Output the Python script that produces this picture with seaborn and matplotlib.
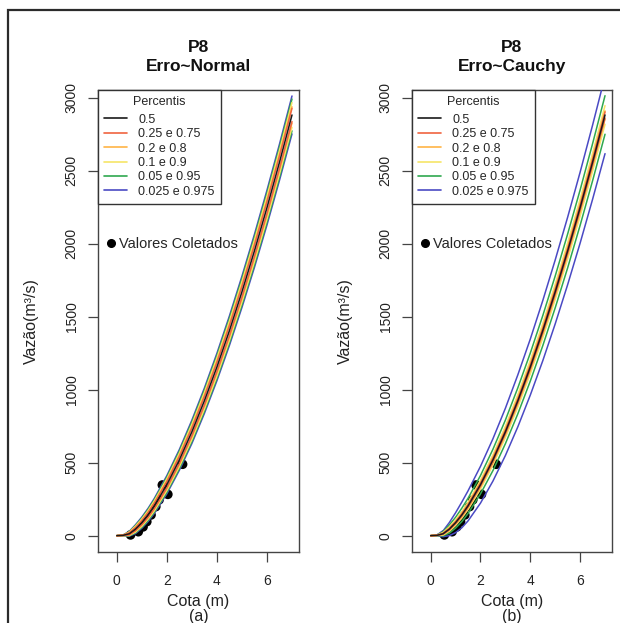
import numpy as np
import pandas as pd
import matplotlib
matplotlib.use("Agg")
import matplotlib.pyplot as plt
from matplotlib.lines import Line2D
from matplotlib.patches import Rectangle
import seaborn as sns

sns.set_theme(style="white")
plt.rcParams["font.family"] = ["Liberation Sans", "DejaVu Sans"]

# Stage (m) at which each rating curve percentile is tabulated
cota = [0, 0.25, 0.5, 0.75, 1.0, 1.25, 1.5, 2.0, 2.5, 3.0, 3.5, 4.0, 4.5, 5.0, 5.5, 6.0, 6.5, 7.0]

# Median discharge (m3/s), shared by both error models
q_median = [0, 2, 13, 45, 89, 142, 204, 349, 519, 711, 924, 1155, 1404, 1670, 1951, 2247, 2558, 2882]

# Half-widths of each percentile band around the median - normal errors
normal_025 = [0, 1, 7, 10, 13, 16, 18, 21, 24, 27, 30, 32, 35, 37, 39, 41, 43, 45]
normal_020 = [0, 1, 8, 13, 17, 19, 22, 27, 31, 34, 37, 40, 43, 46, 49, 51, 53, 56]
normal_010 = [0, 1, 12, 20, 25, 29, 34, 40, 46, 52, 57, 62, 66, 70, 74, 78, 81, 85]
normal_005 = [0, 2, 14, 25, 32, 38, 43, 52, 60, 67, 73, 79, 85, 90, 95, 100, 104, 109]
normal_0025 = [0, 2, 16, 30, 38, 45, 51, 62, 71, 80, 87, 94, 101, 107, 113, 119, 124, 130]

# Half-widths of each percentile band around the median - Cauchy errors
cauchy_025 = [0, 0, 3, 5, 6, 7, 8, 10, 12, 13, 14, 15, 16, 18, 18, 19, 20, 21]
cauchy_020 = [0, 0, 4, 7, 8, 10, 11, 14, 16, 17, 19, 21, 22, 24, 25, 26, 27, 28]
cauchy_010 = [0, 1, 9, 15, 19, 22, 25, 31, 35, 39, 43, 47, 50, 53, 56, 59, 62, 64]
cauchy_005 = [0, 2, 14, 28, 37, 46, 52, 63, 73, 81, 89, 96, 103, 109, 116, 121, 127, 132]
cauchy_0025 = [0, 3, 20, 45, 68, 88, 103, 126, 145, 162, 178, 192, 206, 219, 231, 243, 254, 265]

# Gauged stage/discharge pairs
obs_cota = [0.55, 0.86, 1.05, 1.2, 1.37, 1.56, 1.69, 1.82, 2.04, 2.63]
obs_vazao = [5, 27, 60, 96, 142, 199, 245, 347, 283, 489]

band_labels = ["0.5", "0.25 e 0.75", "0.2 e 0.8", "0.1 e 0.9", "0.05 e 0.95", "0.025 e 0.975"]
band_colors = ["#1a1a1a", "#F0643F", "#FFB446", "#F6E567", "#2FA84F", "#4A4AC4"]

panels = [
    ("P8\nErro~Normal", "Cota (m)\n(a)",
     [normal_025, normal_020, normal_010, normal_005, normal_0025]),
    ("P8\nErro~Cauchy", "Cota (m)\n(b)",
     [cauchy_025, cauchy_020, cauchy_010, cauchy_005, cauchy_0025]),
]

W, H = 620, 623
fig = plt.figure(figsize=(W / 100, H / 100), dpi=100)

# outer frame of the figure
fig.patches.append(Rectangle((8 / W, -0.2), 1.5, 1.2 - 10 / H, transform=fig.transFigure,
                             fill=False, edgecolor="#2b2b2b", linewidth=1.6))

axes_px = [(98, 299), (412, 612)]
top_px, bot_px = 90, 552

for (title, xlabel, bands), (x0, x1) in zip(panels, axes_px):
    ax = fig.add_axes([x0 / W, (H - bot_px) / H, (x1 - x0) / W, (bot_px - top_px) / H])

    sns.scatterplot(x=obs_cota, y=obs_vazao, ax=ax, color="black", s=48,
                    edgecolor="none", zorder=1, legend=False)

    # outer bands first so the inner ones sit on top
    for hw, col in zip(bands[::-1], band_colors[:0:-1]):
        lo = np.array(q_median) - np.array(hw)
        hi = np.array(q_median) + np.array(hw)
        df = pd.DataFrame({"cota": cota * 2, "vazao": np.concatenate([lo, hi]),
                           "lado": ["inf"] * len(cota) + ["sup"] * len(cota)})
        sns.lineplot(data=df, x="cota", y="vazao", units="lado", estimator=None,
                     ax=ax, color=col, lw=1.1, zorder=3, legend=False)
    sns.lineplot(x=cota, y=q_median, ax=ax, color=band_colors[0], lw=1.1,
                 zorder=4, legend=False)

    ax.set_xlim(-0.75, 7.28)
    ax.set_ylim(-112, 3053)
    ax.set_xticks([0, 2, 4, 6])
    ax.set_yticks([0, 500, 1000, 1500, 2000, 2500, 3000])
    ax.tick_params(axis="both", direction="out", length=7, width=0.9, color="#444444",
                   labelsize=10, labelcolor="#222222", bottom=True, left=True)
    ax.tick_params(axis="x", pad=9)
    ax.tick_params(axis="y", pad=7)
    for lab in ax.get_yticklabels():
        lab.set_rotation(90)
        lab.set_va("center")
    for s in ax.spines.values():
        s.set_edgecolor("#444444")
        s.set_linewidth(1.0)

    ax.set_title(title, fontsize=12.5, fontweight="bold", pad=14, linespacing=1.3,
                 color="#111111")
    ax.set_xlabel(xlabel, fontsize=11.5, linespacing=1.05, color="#222222")
    ax.xaxis.set_label_coords(0.5, -0.09)
    ax.set_ylabel("Vazão(m³/s)", fontsize=11.5, color="#222222", va="center")
    ax.yaxis.set_label_coords(-0.333, 0.5)

    handles = [Line2D([], [], color=c, lw=1.2) for c in band_colors]
    leg = ax.legend(handles, band_labels, title="Percentis", loc="upper left",
                    bbox_to_anchor=(0, 1), borderaxespad=0, fontsize=9, title_fontsize=9,
                    frameon=True, fancybox=False, edgecolor="#333333", framealpha=1,
                    handlelength=1.85, handletextpad=0.88, labelspacing=0.19,
                    borderpad=0.5)
    leg.get_frame().set_linewidth(1.0)
    leg._legend_box.sep = 4
    ax.add_artist(leg)

    dot = Line2D([], [], color="black", marker="o", markersize=5.5, lw=0)
    ax.legend([dot], ["Valores Coletados"], loc="center left",
              bbox_to_anchor=(0.045, (2000 + 112) / (3053 + 112)), borderaxespad=0,
              borderpad=0, frameon=False, fontsize=10.5, handlelength=0.5,
              handletextpad=0.35)

fig.savefig("out.png", dpi=100)
